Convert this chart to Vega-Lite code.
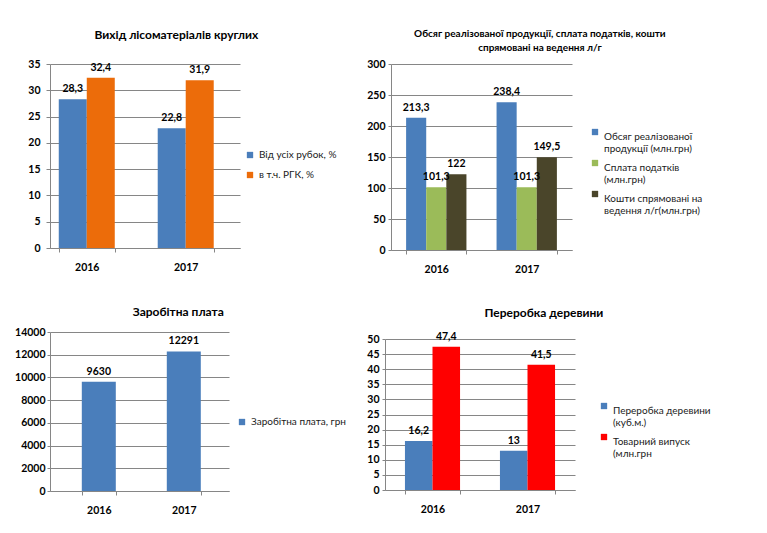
{
  "$schema": "https://vega.github.io/schema/vega-lite/v6.json",
  "background": "white",
  "padding": {"top": 29, "left": 14, "right": 5, "bottom": 5},
  "config": {
    "font": "Lato",
    "view": {"stroke": null},
    "locale": {"number": {"decimal": ",", "thousands": " ", "grouping": [3], "currency": ["", ""]}},
    "title": {"font": "Lato", "fontSize": 12, "fontWeight": "bold", "color": "#000000", "frame": "bounds", "anchor": "middle", "offset": 12},
    "axis": {
      "labelFont": "Lato", "labelFontSize": 10.5, "labelFontWeight": "bold", "labelColor": "#000000",
      "domainColor": "#868686", "gridColor": "#868686", "tickColor": "#868686", "title": null
    },
    "axisX": {"labelAngle": 0, "labelPadding": 10, "tickBand": "extent", "tickSize": 4, "grid": false},
    "axisY": {"tickSize": 4, "labelPadding": 6, "format": "d"},
    "legend": {
      "orient": "none", "symbolType": "square", "symbolSize": 40, "symbolStrokeWidth": 0,
      "labelFont": "Lato", "labelFontSize": 10, "labelColor": "#1a1a1a", "padding": 0, "title": null,
      "labelLimit": 300
    },
    "text": {"font": "Lato", "fontSize": 10.5, "fontWeight": "bold", "color": "#000000", "baseline": "bottom", "dy": -5}
  },
  "columns": 2,
  "align": "none",
  "spacing": {"row": 31, "column": 20},
  "resolve": {
    "scale": {"x": "independent", "xOffset": "independent", "y": "independent", "color": "independent"},
    "axis": {"x": "independent", "y": "independent"},
    "legend": {"color": "independent"}
  },
  "concat": [
    {
      "title": {"text": "Вихід лісоматеріалів круглих", "offset": 17, "dx": -6},
      "width": 190,
      "height": 184,
      "data": {"values": [
        {"year": "2016", "series": "Від усіх рубок, %", "value": 28.3},
        {"year": "2016", "series": "в т.ч.  РГК, %", "value": 32.4},
        {"year": "2017", "series": "Від усіх рубок, %", "value": 22.8},
        {"year": "2017", "series": "в т.ч.  РГК, %", "value": 31.9}
      ]},
      "encoding": {
        "x": {"field": "year", "type": "nominal", "scale": {"paddingInner": 0.434, "paddingOuter": 0.177, "align": 0.25}},
        "xOffset": {"field": "series", "sort": ["Від усіх рубок, %", "в т.ч.  РГК, %"]},
        "y": {"field": "value", "type": "quantitative", "scale": {"domain": [0, 35], "nice": false},
              "axis": {"values": [0, 5, 10, 15, 20, 25, 30, 35]}}
      },
      "layer": [
        {"mark": "bar", "encoding": {"color": {"field": "series", "sort": ["Від усіх рубок, %", "в т.ч.  РГК, %"],
          "scale": {"range": ["#4a7ebb", "#ec6c0a"]}, "legend": {"legendX": 195, "legendY": 86, "rowPadding": 10}}}},
        {"mark": "text", "encoding": {"text": {"field": "value", "format": "~g"}}}
      ]
    },
    {
      "title": {"text": ["Обсяг реалізованої  продукції, сплата податків,  кошти", "спрямовані  на ведення л/г"], "fontSize": 10, "lineHeight": 14, "offset": 6, "dx": 4},
      "width": 181,
      "height": 186,
      "data": {"values": [
        {"year": "2016", "series": "Обсяг реалізованої\nпродукції (млн.грн)", "value": 213.3},
        {"year": "2016", "series": "Сплата податків\n(млн.грн)", "value": 101.3},
        {"year": "2016", "series": "Кошти спрямовані  на\nведення л/г(млн.грн)", "value": 122},
        {"year": "2017", "series": "Обсяг реалізованої\nпродукції (млн.грн)", "value": 238.4},
        {"year": "2017", "series": "Сплата податків\n(млн.грн)", "value": 101.3},
        {"year": "2017", "series": "Кошти спрямовані  на\nведення л/г(млн.грн)", "value": 149.5}
      ]},
      "encoding": {
        "x": {"field": "year", "type": "nominal", "scale": {"paddingInner": 0.333, "paddingOuter": 0.167}},
        "xOffset": {"field": "series", "sort": ["Обсяг реалізованої\nпродукції (млн.грн)", "Сплата податків\n(млн.грн)", "Кошти спрямовані  на\nведення л/г(млн.грн)"]},
        "y": {"field": "value", "type": "quantitative", "scale": {"domain": [0, 300], "nice": false},
              "axis": {"values": [0, 50, 100, 150, 200, 250, 300], "labelPadding": 3, "tickSize": 3}}
      },
      "layer": [
        {"mark": "bar", "encoding": {"color": {"field": "series",
          "sort": ["Обсяг реалізованої\nпродукції (млн.грн)", "Сплата податків\n(млн.грн)", "Кошти спрямовані  на\nведення л/г(млн.грн)"],
          "scale": {"range": ["#4a7ebb", "#9bbb59", "#4a452a"]},
          "legend": {"legendX": 199, "legendY": 63, "rowPadding": 4, "labelExpr": "split(datum.label, '\\n')", "labelBaseline": "top"}}}},
        {"mark": "text", "encoding": {"text": {"field": "value", "format": "~g"}}}
      ]
    },
    {
      "title": {"text": "Заробітна плата", "offset": 8, "dx": -2},
      "width": 179,
      "height": 159,
      "data": {"values": [
        {"year": "2016", "series": "Заробітна плата, грн", "value": 9630},
        {"year": "2017", "series": "Заробітна плата, грн", "value": 12291}
      ]},
      "encoding": {
        "x": {"field": "year", "type": "nominal", "scale": {"paddingInner": 0.6, "paddingOuter": 0.353, "align": 0.53}},
        "y": {"field": "value", "type": "quantitative", "scale": {"domain": [0, 14000], "nice": false},
              "axis": {"values": [0, 2000, 4000, 6000, 8000, 10000, 12000, 14000], "labelPadding": 2, "tickSize": 3}}
      },
      "layer": [
        {"mark": "bar", "encoding": {"color": {"field": "series",
          "scale": {"range": ["#4a7ebb"]}, "legend": {"legendX": 187, "legendY": 85}}}},
        {"mark": "text", "encoding": {"text": {"field": "value", "format": "~g"}}}
      ]
    },
    {
      "title": {"text": "Переробка деревини", "offset": 12, "dx": 5},
      "width": 190,
      "height": 151,
      "data": {"values": [
        {"year": "2016", "series": "Переробка деревини\n(куб.м.)", "value": 16.2},
        {"year": "2016", "series": "Товарний випуск\n(млн.грн", "value": 47.4},
        {"year": "2017", "series": "Переробка деревини\n(куб.м.)", "value": 13},
        {"year": "2017", "series": "Товарний випуск\n(млн.грн", "value": 41.5}
      ]},
      "encoding": {
        "x": {"field": "year", "type": "nominal", "scale": {"paddingInner": 0.42, "paddingOuter": 0.21}},
        "xOffset": {"field": "series", "sort": ["Переробка деревини\n(куб.м.)", "Товарний випуск\n(млн.грн"]},
        "y": {"field": "value", "type": "quantitative", "scale": {"domain": [0, 50], "nice": false},
              "axis": {"values": [0, 5, 10, 15, 20, 25, 30, 35, 40, 45, 50], "labelPadding": 3, "tickSize": 3}}
      },
      "layer": [
        {"mark": "bar", "encoding": {"color": {"field": "series",
          "sort": ["Переробка деревини\n(куб.м.)", "Товарний випуск\n(млн.грн"],
          "scale": {"range": ["#4a7ebb", "#ff0000"]},
          "legend": {"legendX": 214, "legendY": 62, "rowPadding": 4, "labelExpr": "split(datum.label, '\\n')", "labelBaseline": "top"}}}},
        {"mark": "text", "encoding": {"text": {"field": "value", "format": "~g"}}}
      ]
    }
  ]
}
